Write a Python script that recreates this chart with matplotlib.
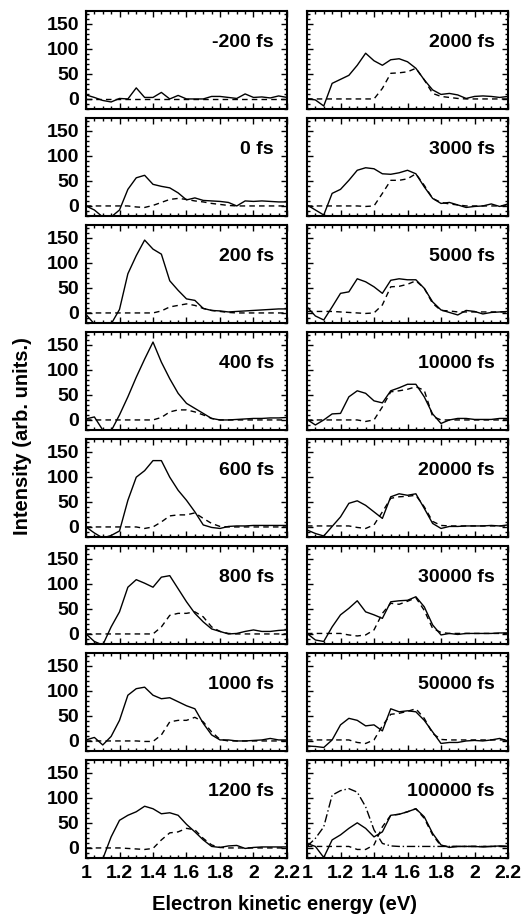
import matplotlib
matplotlib.use('Agg')
import matplotlib.pyplot as plt
from matplotlib.ticker import MultipleLocator, FuncFormatter

plt.rcParams['font.family'] = ['Liberation Sans', 'DejaVu Sans']
plt.rcParams['font.weight'] = 'bold'

# energy grid (eV)
energy = [1.00, 1.05, 1.10, 1.15, 1.20, 1.25, 1.30, 1.35, 1.40, 1.45, 1.50, 1.55,
          1.60, 1.65, 1.70, 1.75, 1.80, 1.85, 1.90, 1.95, 2.00, 2.05, 2.10, 2.15, 2.20]

# left column
s_m200 = [8, 3, -3, -6, 1, 0, 22, 3, 3, 13, 0, 7, 0, 0, 0, 5, 5, 3, 1, 10, 3, 4, 2, 6, 3]
d_m200 = [0, 0, 0, 0, 0, 0, 0, 0, 0, 0, 0, 0, 0, 0, 0, 0, 0, 0, 0, 0, 0, 0, 0, 0, 0]
s_0 = [0, -8, -22, -22, -8, 33, 56, 61, 43, 39, 36, 26, 12, 16, 11, 10, 9, 7, 0, 10, 9, 10, 9, 8, 8]
d_0 = [0, 0, 0, 0, 0, 0, -2, -3, 1, 7, 13, 15, 13, 10, 8, 5, 3, 1, 0, 0, 0, 0, 0, 0, 0]
s_200 = [-3, -22, -22, -22, 7, 78, 114, 145, 127, 117, 64, 45, 28, 25, 9, 5, 4, 2, 3, 4, 5, 6, 7, 8, 8]
d_200 = [0, 0, 0, 0, 0, 0, 0, 0, 0, 4, 12, 15, 18, 15, 9, 5, 3, 1, 0, 0, 0, 0, 0, 0, 0]
s_400 = [2, 6, -20, -22, 10, 46, 85, 121, 155, 115, 82, 53, 33, 23, 13, 3, 0, 0, 1, 2, 3, 3, 4, 4, 5]
d_400 = [0, 0, 0, 0, 0, 0, 0, 0, 0, 5, 16, 20, 20, 16, 10, 3, 0, 0, 0, 0, 0, 0, 0, 0, 0]
s_600 = [0, -12, -22, -17, -8, 53, 99, 112, 132, 132, 99, 73, 53, 30, 4, -1, -3, 1, 2, 2, 3, 3, 3, 3, 3]
d_600 = [0, 0, 0, 0, 0, 0, 0, -3, 0, 10, 22, 24, 24, 28, 17, 7, 1, 0, 0, 0, 0, 0, 0, 0, 0]
s_800 = [0, -15, -22, 14, 44, 93, 108, 101, 93, 113, 116, 90, 64, 41, 24, 10, 5, 0, 1, 5, 8, 5, 5, 7, 8]
d_800 = [0, 0, 0, 0, 0, 0, 0, 0, 0, 14, 37, 41, 41, 44, 34, 14, 5, 1, 0, 0, 0, 0, 0, 0, 0]
s_1000 = [2, 7, -8, 9, 41, 91, 104, 107, 91, 84, 86, 78, 70, 64, 35, 12, 2, 2, 0, 0, 1, 2, 5, 2, 2]
d_1000 = [0, 0, 0, 0, 0, 0, 0, -1, -1, 12, 38, 41, 41, 47, 38, 18, 3, 0, 0, 0, 0, 0, 0, 0, 0]
s_1200 = [-22, -22, -22, 22, 55, 65, 72, 83, 78, 68, 70, 65, 47, 32, 16, 3, 1, 4, 5, -1, 1, 2, 2, 2, 2]
d_1200 = [0, 0, 0, 0, 0, -1, -2, -3, -1, 16, 30, 32, 39, 36, 19, 6, 1, 0, 0, 0, 0, 0, 0, 0, 0]

# right column
s_2000 = [1, -2, -14, 31, 39, 47, 67, 91, 76, 67, 78, 80, 74, 61, 38, 18, 9, 11, 8, 1, 5, 6, 5, 3, 5]
d_2000 = [0, 0, 0, 0, 0, 0, 0, 0, 0, 21, 51, 52, 54, 61, 38, 11, 5, 3, 1, 0, 0, 0, 0, 0, 0]
s_3000 = [2, -8, -18, 25, 33, 51, 71, 76, 74, 64, 63, 66, 71, 64, 38, 15, 5, 7, 2, -3, -1, 0, 4, -1, 4]
d_3000 = [0, 0, 0, 0, 0, 0, 0, -1, 0, 25, 51, 51, 54, 64, 41, 15, 7, 4, 2, 0, 0, 0, 0, 0, 0]
s_5000 = [12, -6, -14, 12, 39, 42, 68, 62, 52, 39, 65, 68, 66, 66, 49, 22, 6, 1, -4, 5, 3, -2, 1, 2, 3]
d_5000 = [3, 3, 3, 3, 2, 1, 0, -1, 0, 16, 52, 53, 57, 64, 49, 19, 5, 4, 2, 2, 2, 2, 2, 2, 2]
s_10000 = [1, -10, 0, 12, 13, 46, 58, 53, 38, 34, 58, 64, 71, 71, 46, 12, -7, 0, 3, 3, 1, 1, 1, 3, 3]
d_10000 = [0, 0, 0, 0, 0, 0, 0, -3, 0, 26, 56, 58, 61, 66, 59, 7, 0, 0, 0, 0, 0, 0, 0, 0, 0]
s_20000 = [-6, -13, -18, 1, 20, 47, 52, 43, 30, 17, 60, 66, 63, 66, 37, 7, -3, 1, 1, 2, 2, 2, 3, 2, 4]
d_20000 = [2, 2, 2, 2, 2, 2, -1, -3, 4, 30, 57, 60, 61, 63, 40, 11, 3, 2, 2, 2, 2, 2, 2, 2, 2]
s_30000 = [1, -12, -15, 14, 38, 51, 66, 44, 38, 31, 64, 66, 67, 74, 54, 18, -2, 1, -1, 1, 1, 1, 1, 2, 2]
d_30000 = [1, 1, 1, 1, 1, -2, -4, -2, 8, 41, 61, 59, 65, 72, 47, 11, 3, 1, 1, 1, 1, 1, 1, 1, 1]
s_50000 = [-10, -11, -13, 2, 32, 45, 41, 30, 32, 20, 64, 58, 60, 58, 41, 18, -5, -3, -3, 0, 1, 0, 2, 5, 0]
d_50000 = [2, 2, 2, 2, 2, 2, -3, -5, 2, 30, 53, 55, 59, 64, 45, 15, 3, 2, 2, 2, 2, 2, 2, 2, 2]
s_100000 = [9, 3, -19, 16, 26, 39, 50, 39, 22, 32, 65, 67, 72, 78, 62, 29, 6, 1, 3, 3, 3, 2, 3, 4, 3]
d_100000 = [3, 3, 3, 3, 3, 3, -3, -3, 6, 42, 65, 67, 72, 78, 59, 26, 4, 3, 3, 3, 3, 3, 3, 3, 3]
dd_100000 = [3, 19, 42, 105, 114, 118, 111, 82, 36, 9, 4, 3, 3, 3, 3, 3, 3, 3, 3, 3, 3, 3, 3, 3, 3]

left_panels = [('-200 fs', s_m200, d_m200), ('0 fs', s_0, d_0), ('200 fs', s_200, d_200),
               ('400 fs', s_400, d_400), ('600 fs', s_600, d_600), ('800 fs', s_800, d_800),
               ('1000 fs', s_1000, d_1000), ('1200 fs', s_1200, d_1200)]
right_panels = [('2000 fs', s_2000, d_2000), ('3000 fs', s_3000, d_3000), ('5000 fs', s_5000, d_5000),
                ('10000 fs', s_10000, d_10000), ('20000 fs', s_20000, d_20000),
                ('30000 fs', s_30000, d_30000), ('50000 fs', s_50000, d_50000),
                ('100000 fs', s_100000, d_100000)]

fig = plt.figure(figsize=(5.25, 9.15), dpi=100)
gs = fig.add_gridspec(8, 2, left=86/525, right=508/525, top=1-11/915, bottom=1-858/915,
                      wspace=20/201, hspace=9/98)

fmt = FuncFormatter(lambda v, p: '%g' % round(v, 2))

for col, panels in enumerate([left_panels, right_panels]):
    for row, (label, solid, dashed) in enumerate(panels):
        ax = fig.add_subplot(gs[row, col])
        ax.plot(energy, solid, color='black', lw=1.0)
        ax.plot(energy, dashed, color='black', lw=1.0, linestyle=(0, (4, 3)))
        if label == '100000 fs':
            ax.plot(energy, dd_100000, color='black', lw=1.0, linestyle=(0, (6, 2, 1, 2)))
        ax.set_xlim(1, 2.2)
        ax.set_ylim(-20, 175)
        ax.xaxis.set_major_locator(MultipleLocator(0.2))
        ax.xaxis.set_minor_locator(MultipleLocator(0.05))
        ax.yaxis.set_major_locator(MultipleLocator(50))
        ax.yaxis.set_minor_locator(MultipleLocator(10))
        ax.xaxis.set_major_formatter(fmt)
        ax.tick_params(which='both', direction='in', top=True, right=True, width=1)
        ax.tick_params(which='major', length=4, labelsize=14, pad=5)
        ax.tick_params(which='minor', length=2)
        for sp in ax.spines.values():
            sp.set_linewidth(1.5)
        if col == 1:
            ax.tick_params(labelleft=False)
        if row < 7:
            ax.tick_params(labelbottom=False)
        ax.text(0.935, 0.68, label, transform=ax.transAxes, ha='right', va='center',
                fontsize=14, fontweight='bold')

fig.text(0.043, 0.523, 'Intensity (arb. units.)', rotation=90, ha='center', va='center',
         fontsize=14.5, fontweight='bold')
fig.text(0.542, 0.012, 'Electron kinetic energy (eV)', ha='center', va='center',
         fontsize=14.5, fontweight='bold')

fig.savefig('out.png', dpi=100)
